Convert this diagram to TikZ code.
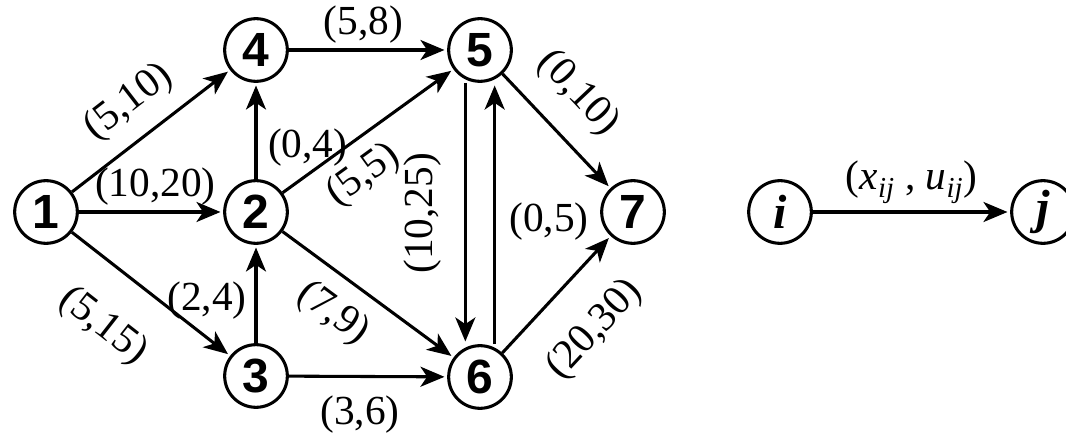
\documentclass[tikz,border=0pt]{standalone}
\usepackage{fontspec}
\setmainfont{Liberation Serif}
\newfontfamily\vertexfont{Liberation Sans}
\usetikzlibrary{arrows.meta}

\begin{document}
\begin{tikzpicture}[
    x=0.75pt, y=-0.75pt,
    vertex/.style={
        draw, circle, line width=2.3pt, minimum size=47pt, inner sep=0pt,
        font=\vertexfont\bfseries\fontsize{36}{36}\selectfont
    },
    generic/.style={vertex, font=\bfseries\itshape\fontsize{36}{36}\selectfont},
    arr/.style={-{Stealth[length=18pt, width=15pt, inset=5pt]},
        line width=2.3pt, shorten >=2pt},
    lbl/.style={font=\fontsize{31}{31}\selectfont, inner sep=3pt}
]
\useasboundingbox (0,0) rectangle (1066,434);

% --- Vertices ---
\node[vertex] (n1) at (46,212) {1};
\node[vertex] (n4) at (256,50) {4};
\node[vertex] (n2) at (256,212) {2};
\node[vertex] (n3) at (256,376) {3};
\node[vertex] (n5) at (480,50) {5};
\node[vertex] (n6) at (480,377) {6};
\node[vertex] (n7) at (633,212) {7};

% --- Legend ---
\node[generic] (ni) at (780,212) {i};
\node[generic] (nj) at (1043,212) {j};

% --- Arcs (flow, capacity) ---
\draw[arr] (n1) -- node[lbl, sloped, above=9pt] {(5,10)} (n4);
\draw[arr] (n1) -- node[lbl, above=1pt, pos=0.53] {(10,20)} (n2);
\draw[arr] (n1) -- node[lbl, sloped, below=23pt, pos=0.41] {(5,15)} (n3);
\draw[arr] (n2) -- node[lbl, right=5pt, pos=0.33] {(0,4)} (n4);
\draw[arr] (n3) -- node[lbl, left=3pt, pos=0.43] {(2,4)} (n2);
\draw[arr] (n4) -- node[lbl, above=1pt, pos=0.47] {(5,8)} (n5);
\draw[arr] (n2) -- node[lbl, sloped, below=7pt, pos=0.36] {(5,5)} (n5);
\draw[arr] (n2) -- node[lbl, sloped, below=9pt, pos=0.42] {(7,9)} (n6);
\draw[arr] (n3) -- node[lbl, below=10pt, pos=0.45] {(3,6)} (n6);
\draw[arr] ([xshift=-11pt]n5.south) --
    node[lbl, rotate=90, anchor=south, inner ysep=17pt] {(10,25)}
    ([xshift=-11pt]n6.north);
\draw[arr] ([xshift=11pt]n6.north) --
    node[lbl, right=7pt, pos=0.47] {(0,5)} ([xshift=11pt]n5.south);
\draw[arr] (n5) -- node[lbl, sloped, above=13pt, pos=0.42] {(0,10)} (n7);
\draw[arr] (n6) -- node[lbl, sloped, below=21pt] {(20,30)} (n7);
\draw[arr] (ni) -- node[lbl, above=2pt]
    {(\textit{x}\textsubscript{\textit{ij}}\ , \textit{u}\textsubscript{\textit{ij}})} (nj);

\end{tikzpicture}
\end{document}
